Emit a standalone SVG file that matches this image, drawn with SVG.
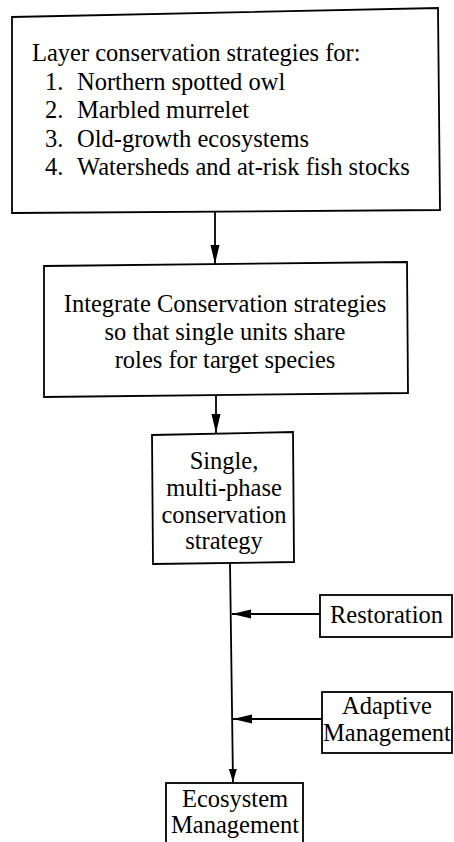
<svg xmlns="http://www.w3.org/2000/svg" width="454" height="842" viewBox="0 0 454 842">
<style>
.box{fill:#fff;stroke:#000;stroke-width:1.8}
.t{font-family:"Liberation Serif","Times New Roman",serif;font-size:24.5px;fill:#000}
.c{text-anchor:middle}
.ln{stroke:#000;stroke-width:1.8;fill:none}
</style>
<defs>
<marker id="ah" markerWidth="20" markerHeight="10" refX="19" refY="5" orient="auto" markerUnits="userSpaceOnUse">
<path d="M0,0.5 L19,5 L0,9.5 Z" fill="#000"/>
</marker>
<marker id="ahs" markerWidth="14" markerHeight="10" refX="13" refY="5" orient="auto" markerUnits="userSpaceOnUse">
<path d="M0,1 L13,5 L0,9 Z" fill="#000"/>
</marker>
</defs>
<rect width="454" height="842" fill="#fff"/>
<g id="layer">
<polygon class="box" points="12,17 438,8 440,210 12,213"/>
<text class="t" x="32" y="61">Layer conservation strategies for:</text>
<text class="t" x="45" y="90">1.</text><text class="t" x="77" y="90">Northern spotted owl</text>
<text class="t" x="45" y="118">2.</text><text class="t" x="77" y="118">Marbled murrelet</text>
<text class="t" x="45" y="147">3.</text><text class="t" x="77" y="147">Old-growth ecosystems</text>
<text class="t" x="45" y="175">4.</text><text class="t" x="77" y="175">Watersheds and at-risk fish stocks</text>
</g>
<g id="integrate">
<polygon class="box" points="44,266 407,262 408,393 44,397"/>
<text class="t c" x="225" y="312">Integrate Conservation strategies</text>
<text class="t c" x="225" y="340">so that single units share</text>
<text class="t c" x="225" y="368">roles for target species</text>
</g>
<g id="single">
<polygon class="box" points="152,435 293,432 294,562 153,564"/>
<text class="t c" x="224" y="469">Single,</text>
<text class="t c" x="224" y="496">multi-phase</text>
<text class="t c" x="224" y="523">conservation</text>
<text class="t c" x="224" y="549">strategy</text>
</g>
<g id="restoration">
<rect class="box" x="320" y="595" width="132" height="42"/>
<text class="t" x="330" y="623">Restoration</text>
</g>
<g id="adaptive">
<rect class="box" x="322" y="692" width="130" height="61"/>
<text class="t" x="342" y="714">Adaptive</text>
<text class="t" x="323" y="741">Management</text>
</g>
<g id="ecosystem">
<rect class="box" x="166" y="783" width="137" height="80"/>
<text class="t c" x="235" y="807">Ecosystem</text>
<text class="t c" x="235" y="833">Management</text>
</g>
<g id="connectors">
<line class="ln" x1="215" y1="211" x2="215" y2="264" marker-end="url(#ah)"/>
<line class="ln" x1="216" y1="395" x2="216" y2="433" marker-end="url(#ah)"/>
<line class="ln" x1="230" y1="563" x2="233" y2="782" marker-end="url(#ahs)"/>
<line class="ln" x1="320" y1="614" x2="232" y2="614" marker-end="url(#ah)"/>
<line class="ln" x1="322" y1="719" x2="233" y2="719" marker-end="url(#ah)"/>
</g>
</svg>
